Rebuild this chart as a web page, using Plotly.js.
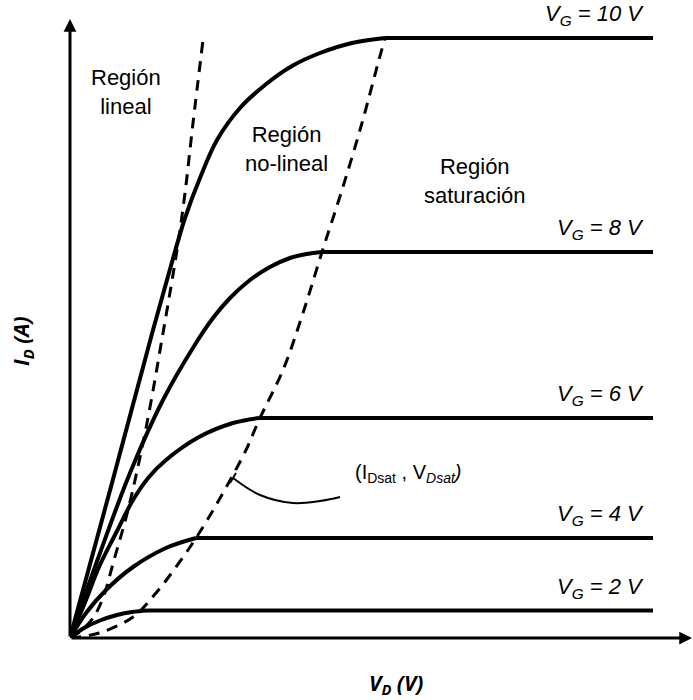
<!DOCTYPE html>
<html>
<head>
<meta charset="utf-8">
<script src="https://cdn.plot.ly/plotly-3.0.1.min.js"></script>
<style>html,body{margin:0;padding:0;background:#fff;}#chart{width:693px;height:700px;}</style>
</head>
<body>
<div id="chart"></div>
<script>
// ---- Data (V_D and I_D in arbitrary units) ----
const vd10 = [0, 4.2, 8.3, 10.2, 11.5, 13, 14.7, 17, 19.5, 22.2, 25, 28.2, 31.5];
const id10 = [0, 15.5, 30.8, 37.6, 42, 46, 49.8, 53, 55.3, 57.2, 58.5, 59.5, 60.0];
const vd8 = [0, 3, 6, 9.3, 12.6, 14.3, 16, 18, 20, 22, 23.7, 25.2];
const id8 = [0, 8.5, 16.5, 23.8, 29.5, 32, 34, 35.8, 37.1, 38, 38.4, 38.6];
const vd6 = [0, 1.6, 2.9, 4.6, 6.3, 7.9, 9.6, 12.9, 16.3, 18.9];
const id6 = [0, 3.8, 7.1, 10.5, 13.8, 16.1, 17.8, 20.1, 21.5, 22];
const vd4 = [0, 1.6, 3.6, 6.3, 9.6, 12.6];
const id4 = [0, 2.5, 4.8, 7.1, 9, 10];
const vd2 = [0, 1.4, 3, 4.7, 6.2, 7.8];
const id2 = [0, 1, 1.75, 2.3, 2.6, 2.75];
const vdEnd = 58.3;

const curveLabels = ['V<sub>G</sub> = 10 V', 'V<sub>G</sub> = 8 V', 'V<sub>G</sub> = 6 V', 'V<sub>G</sub> = 4 V', 'V<sub>G</sub> = 2 V'];

// linear-region boundary (dashed)
const linX = [0, 1.2, 2.3, 3.3, 4.4, 5.8, 7.6, 9.3, 10.7, 11.5, 12.3, 13.3];
const linY = [0, 0.8, 2, 4, 7.8, 12.8, 21, 30.5, 38.8, 44.5, 51.5, 59.8];
// saturation locus (dashed)
const satX = [0, 2.9, 6.3, 8.6, 10.6, 12.6, 14.9, 17.6, 18.9, 21.3, 23.3, 25.2, 27.2, 29.2, 30.7, 31.5];
const satY = [0, 0.5, 2.1, 4.5, 7.1, 10, 13.8, 18.8, 21.8, 26.8, 32.5, 38.6, 44.8, 51.5, 57.1, 60];
// callout to (IDsat, VDsat)
const calloutX = [16.3, 19, 22.3, 25, 27];
const calloutY = [16, 14.3, 13.5, 13.7, 14.1];
const tickX = [16.0, 16.6];
const tickY = [15.5, 16.5];

const regionLabels = ['Región<br>lineal', 'Región<br>no-lineal', 'Región<br>saturación'];
const calloutLabel = '(I<sub>Dsat</sub> , V<sub><i>Dsat</i></sub><i>)</i>';
const xTitle = '<b><i>V<sub>D</sub> (V)</i></b>';
const yTitle = '<b><i>I<sub>D</sub> (A)</i></b>';

// ---- Build traces ----
const curves = [[vd10, id10], [vd8, id8], [vd6, id6], [vd4, id4], [vd2, id2]];
const traces = [];
const solid = {color: '#000', width: 4};
curves.forEach(([x, y]) => {
  traces.push({x: x, y: y, mode: 'lines', line: Object.assign({shape: 'spline', smoothing: 1}, solid), hoverinfo: 'skip'});
  const sx = x[x.length - 1], sy = y[y.length - 1];
  traces.push({x: [sx, vdEnd], y: [sy, sy], mode: 'lines', line: solid, hoverinfo: 'skip'});
});
traces.push({x: linX, y: linY, mode: 'lines', line: {color: '#000', width: 3, dash: '11px,8px', shape: 'spline', smoothing: 1}, hoverinfo: 'skip'});
traces.push({x: satX, y: satY, mode: 'lines', line: {color: '#000', width: 3, dash: '11px,8px', shape: 'spline', smoothing: 1}, hoverinfo: 'skip'});
traces.push({x: calloutX, y: calloutY, mode: 'lines', line: {color: '#000', width: 2, shape: 'spline', smoothing: 1}, hoverinfo: 'skip'});
traces.push({x: tickX, y: tickY, mode: 'lines', line: {color: '#000', width: 2}, hoverinfo: 'skip'});

const txtFont = {family: 'Liberation Sans, Arial, sans-serif', size: 22, color: '#000'};
const itFont = {family: 'Liberation Sans, Arial, sans-serif', size: 22, color: '#000', style: 'italic'};
const annotations = [];
// axes arrows
annotations.push({x: 62.2, y: 0, ax: 0, ay: 0, xref: 'x', yref: 'y', axref: 'x', ayref: 'y', text: '', showarrow: true, arrowhead: 2, arrowsize: 0.85, arrowwidth: 3, arrowcolor: '#000'});
annotations.push({x: 0, y: 61.9, ax: 0, ay: 0, xref: 'x', yref: 'y', axref: 'x', ayref: 'y', text: '', showarrow: true, arrowhead: 2, arrowsize: 0.85, arrowwidth: 3, arrowcolor: '#000'});
// curve labels
curves.forEach(([x, y], i) => {
  annotations.push({x: 57.6, y: y[y.length - 1], xref: 'x', yref: 'y', text: curveLabels[i], showarrow: false, xanchor: 'right', yanchor: 'middle', yshift: 23, font: itFont});
});
// region labels
const regionPos = [[5.6, 54.6], [21.6, 48.9], [40.5, 45.7]];
regionLabels.forEach((t, i) => {
  annotations.push({x: regionPos[i][0], y: regionPos[i][1], xref: 'x', yref: 'y', text: t, showarrow: false, xanchor: 'center', yanchor: 'middle', font: txtFont});
});
annotations.push({x: 33.8, y: 16.5, xref: 'x', yref: 'y', text: calloutLabel, showarrow: false, xanchor: 'center', yanchor: 'middle', font: {family: 'Liberation Sans, Arial, sans-serif', size: 20, color: '#000'}});
// axis titles (paper coordinates, outside the plot area)
annotations.push({x: 0.523, y: -0.072, xref: 'paper', yref: 'paper', text: xTitle, showarrow: false, xanchor: 'center', yanchor: 'middle', font: {family: 'Open Sans, sans-serif', size: 21, color: '#000'}});
annotations.push({x: -0.076, y: 0.465, xref: 'paper', yref: 'paper', text: yTitle, showarrow: false, textangle: -90, xanchor: 'center', yanchor: 'middle', font: {family: 'Open Sans, sans-serif', size: 21, color: '#000'}});

const layout = {
  width: 693, height: 700,
  margin: {l: 70, r: 0, t: 0, b: 62},
  paper_bgcolor: '#fff', plot_bgcolor: '#fff',
  showlegend: false,
  xaxis: {range: [0, 62.3], visible: false, fixedrange: true},
  yaxis: {range: [0, 63.8], visible: false, fixedrange: true},
  annotations: annotations
};
Plotly.newPlot('chart', traces, layout, {displayModeBar: false, staticPlot: true});
</script>
</body>
</html>
